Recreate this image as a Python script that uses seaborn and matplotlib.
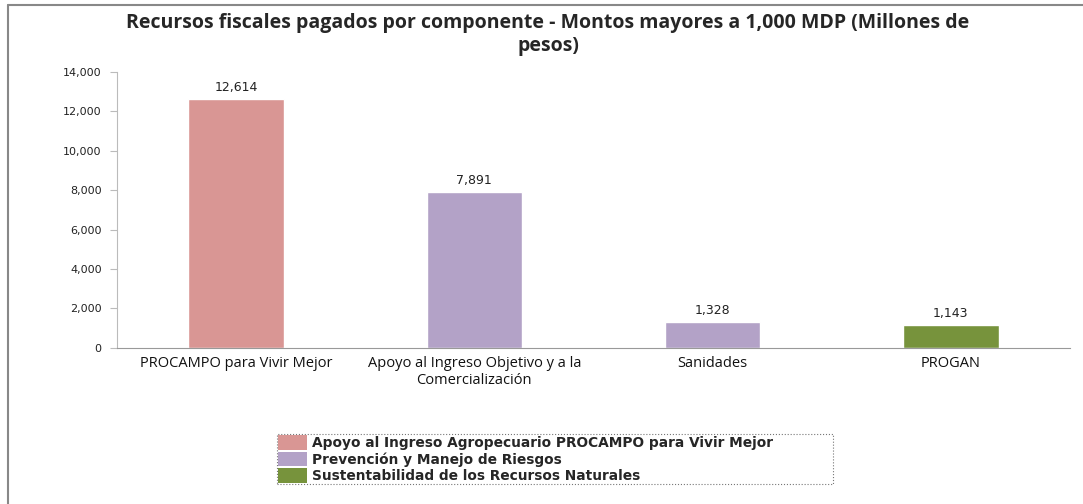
import matplotlib
matplotlib.use("Agg")
import matplotlib.pyplot as plt
import seaborn as sns
import pandas as pd
from matplotlib.patches import Patch
from matplotlib.lines import Line2D

# data
programas = ["PROCAMPO para Vivir Mejor",
             "Apoyo al Ingreso Objetivo y a la\nComercialización",
             "Sanidades",
             "PROGAN"]
montos = [12614, 7891, 1328, 1143]
componentes = ["Apoyo al Ingreso Agropecuario PROCAMPO para Vivir Mejor",
               "Prevención y Manejo de Riesgos",
               "Prevención y Manejo de Riesgos",
               "Sustentabilidad de los Recursos Naturales"]
leyenda = ["Apoyo al Ingreso Agropecuario PROCAMPO para Vivir Mejor",
           "Prevención y Manejo de Riesgos",
           "Sustentabilidad de los Recursos Naturales"]
colores = ["#D99694", "#B3A2C7", "#77933C"]

sns.set_style("white")

df = pd.DataFrame({"programa": programas, "monto": montos, "componente": componentes})
paleta = dict(zip(leyenda, colores))

fig = plt.figure(figsize=(10.83, 5.04), dpi=100)
ax = fig.add_axes([0.108, 0.31, 0.88, 0.547])

sns.barplot(data=df, x="programa", y="monto", hue="componente", palette=paleta,
            dodge=False, width=0.40, legend=False, ax=ax, saturation=1)

ax.set_ylim(0, 14000)
ax.set_xlim(-0.5, len(programas) - 0.5)
ax.set_yticks(range(0, 14001, 2000))
ax.set_yticklabels([f"{v:,}" for v in range(0, 14001, 2000)],
                   fontsize=8, family="DejaVu Sans", color="#222222")
ax.set_xticks(range(len(programas)))
ax.set_xticklabels(programas, fontsize=10.5, family="Open Sans", color="#111111")
ax.set_xticks([i - 0.5 for i in range(len(programas) + 1)], minor=True)
ax.tick_params(axis="x", which="major", length=0, pad=6)
ax.tick_params(axis="x", which="minor", length=5, color="#999999", direction="out")
ax.tick_params(axis="y", length=5, color="#bbbbbb", direction="out", left=True, pad=6)
ax.set_xlabel("")
ax.set_ylabel("")

for s in ["top", "right"]:
    ax.spines[s].set_visible(False)
ax.spines["left"].set_color("#bbbbbb")
ax.spines["bottom"].set_color("#999999")

for i, v in enumerate(montos):
    ax.text(i, v + 250, f"{v:,}", ha="center", va="bottom", fontsize=9,
            family="DejaVu Sans", color="#222222")

fig.suptitle("Recursos fiscales pagados por componente - Montos mayores a 1,000 MDP (Millones de\npesos)",
             x=0.506, y=0.975, fontsize=14, fontweight="bold", family="Open Sans",
             linespacing=1.25)

handles = [Patch(facecolor=c, edgecolor="none") for c in colores]
leg = fig.legend(handles, leyenda, loc="lower left", mode="expand",
                 bbox_to_anchor=(0.256, 0.04, 0.513, 0.107),
                 frameon=True, fancybox=False, handlelength=2.15, handleheight=1.25,
                 handletextpad=0.3, labelspacing=0.12, borderpad=0.05, borderaxespad=0,
                 prop={"family": "DejaVu Sans", "weight": "bold", "size": 9.9})
leg.get_frame().set_linestyle(":")
leg.get_frame().set_edgecolor("#555555")
leg.get_frame().set_linewidth(0.8)

# outer frame lines (top and left) like the exported chart area
fig.add_artist(Line2D([0.0075, 1.0], [0.99, 0.99], color="#888888", lw=1.5, transform=fig.transFigure))
fig.add_artist(Line2D([0.0075, 0.0075], [0.0, 0.99], color="#888888", lw=1.5, transform=fig.transFigure))

fig.savefig("out.png", dpi=100)
